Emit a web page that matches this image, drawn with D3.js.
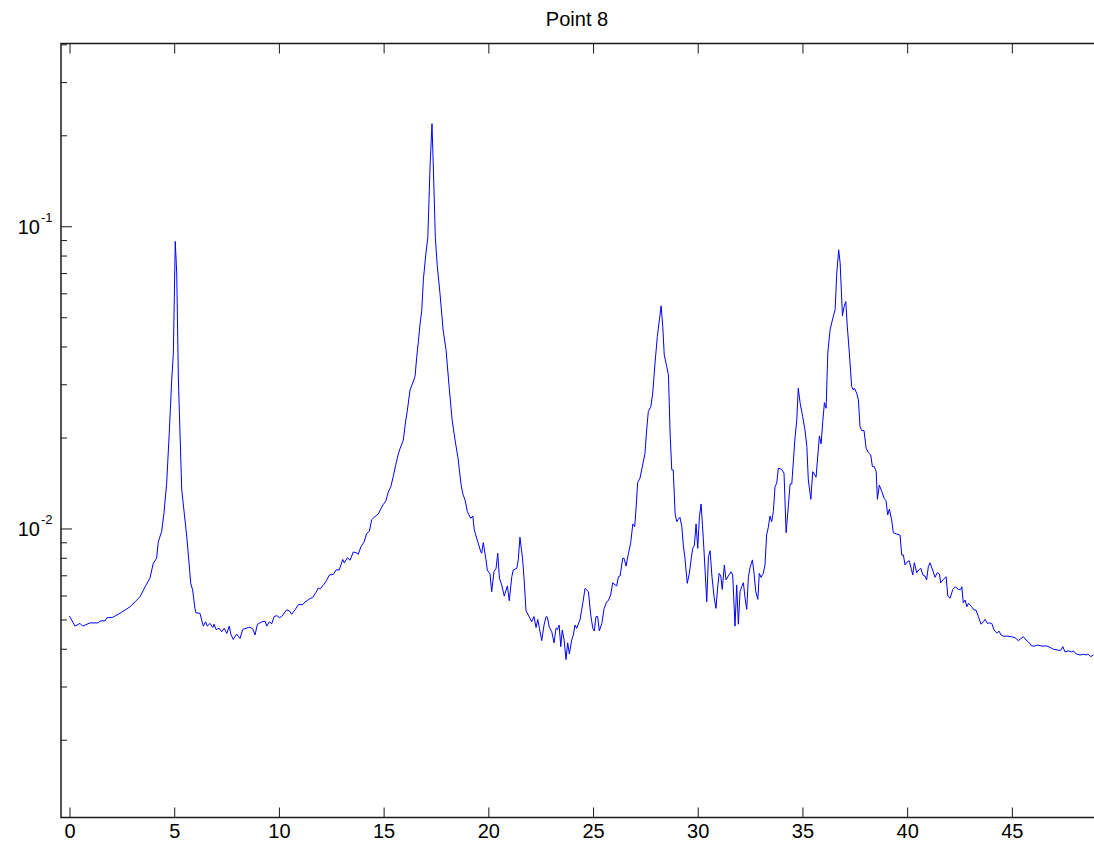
<!DOCTYPE html>
<html>
<head>
<meta charset="utf-8">
<script src="https://cdn.jsdelivr.net/npm/d3@7/dist/d3.min.js"></script>
<style>
  html, body { margin: 0; padding: 0; background: #fff; }
  svg { display: block; font-family: "Liberation Sans", Arial, Helvetica, sans-serif; }
</style>
</head>
<body>
<svg id="chart" width="1094" height="850"></svg>
<script>
// Spectrum at measurement point 8: frequency (Hz) and amplitude
const titleText = "Point 8";

const freqHz = [
  0.00, 0.26, 0.50, 0.63, 0.98, 1.38, 1.46, 1.70, 1.78, 2.06, 2.33, 2.65, 2.89, 3.13, 3.37, 3.61, 3.84,
  4.00, 4.16, 4.24, 4.40, 4.51, 4.64, 4.77, 4.88, 4.96, 5.05, 5.12, 5.20, 5.36, 5.60, 5.79, 5.88, 5.99,
  6.04, 6.23, 6.39, 6.50, 6.58, 6.71, 6.84, 6.90, 7.00, 7.15, 7.27, 7.39, 7.51, 7.63, 7.70, 7.82, 7.98,
  8.14, 8.27, 8.54, 8.62, 8.75, 8.86, 8.97, 9.18, 9.34, 9.42, 9.54, 9.66, 9.77, 9.90, 10.02, 10.13,
  10.37, 10.50, 10.61, 10.77, 10.93, 11.14, 11.25, 11.36, 11.49, 11.61, 11.77, 11.88, 11.96, 12.15,
  12.28, 12.41, 12.60, 12.73, 12.88, 13.05, 13.12, 13.27, 13.40, 13.55, 13.68, 13.79, 13.92, 14.06,
  14.19, 14.32, 14.43, 14.59, 14.75, 14.88, 14.99, 15.11, 15.22, 15.34, 15.46, 15.58, 15.70, 15.78,
  15.94, 16.04, 16.13, 16.26, 16.39, 16.50, 16.58, 16.66, 16.74, 16.82, 16.90, 17.01, 17.11, 17.22,
  17.31, 17.37, 17.47, 17.56, 17.69, 17.84, 17.98, 18.12, 18.27, 18.41, 18.55, 18.70, 18.79, 18.89,
  19.00, 19.16, 19.26, 19.33, 19.47, 19.64, 19.68, 19.76, 19.89, 19.95, 20.08, 20.16, 20.27, 20.37,
  20.45, 20.53, 20.64, 20.76, 20.91, 21.00, 21.12, 21.19, 21.36, 21.43, 21.51, 21.64, 21.70, 21.80,
  21.91, 22.07, 22.18, 22.28, 22.36, 22.44, 22.55, 22.66, 22.76, 22.82, 22.91, 23.03, 23.14, 23.23,
  23.30, 23.38, 23.46, 23.53, 23.62, 23.71, 23.79, 23.87, 23.98, 24.06, 24.14, 24.22, 24.38, 24.51,
  24.62, 24.78, 24.89, 24.99, 25.06, 25.14, 25.22, 25.30, 25.42, 25.53, 25.65, 25.73, 25.84, 25.94,
  26.05, 26.13, 26.21, 26.29, 26.42, 26.48, 26.58, 26.69, 26.80, 26.90, 26.99, 27.05, 27.13, 27.24,
  27.37, 27.48, 27.56, 27.64, 27.76, 27.85, 27.96, 28.07, 28.17, 28.25, 28.33, 28.40, 28.52, 28.60,
  28.68, 28.76, 28.83, 28.92, 29.00, 29.07, 29.15, 29.24, 29.31, 29.39, 29.50, 29.60, 29.68, 29.76,
  29.84, 29.92, 30.00, 30.08, 30.16, 30.27, 30.35, 30.43, 30.51, 30.59, 30.68, 30.78, 30.87, 30.94,
  31.02, 31.10, 31.17, 31.27, 31.35, 31.46, 31.59, 31.67, 31.78, 31.86, 31.94, 32.02, 32.10, 32.18,
  32.26, 32.34, 32.42, 32.50, 32.61, 32.69, 32.77, 32.87, 32.94, 33.02, 33.13, 33.21, 33.29, 33.37,
  33.45, 33.53, 33.61, 33.69, 33.77, 33.85, 34.01, 34.12, 34.22, 34.33, 34.41, 34.49, 34.57, 34.65,
  34.73, 34.80, 34.89, 35.01, 35.12, 35.21, 35.28, 35.40, 35.49, 35.65, 35.81, 35.89, 35.97, 36.05,
  36.13, 36.21, 36.32, 36.45, 36.56, 36.64, 36.73, 36.80, 36.91, 36.99, 37.07, 37.14, 37.24, 37.35,
  37.43, 37.48, 37.59, 37.67, 37.75, 37.83, 37.94, 38.04, 38.15, 38.26, 38.34, 38.43, 38.52, 38.58,
  38.67, 38.79, 38.90, 38.99, 39.07, 39.15, 39.26, 39.34, 39.50, 39.66, 39.74, 39.82, 39.90, 40.01,
  40.10, 40.19, 40.27, 40.34, 40.46, 40.54, 40.65, 40.75, 40.85, 40.93, 41.01, 41.09, 41.22, 41.33,
  41.44, 41.54, 41.60, 41.73, 41.86, 41.94, 42.05, 42.18, 42.29, 42.45, 42.56, 42.61, 42.68, 42.77,
  42.85, 42.93, 43.08, 43.20, 43.29, 43.40, 43.53, 43.64, 43.72, 43.83, 43.92, 44.04, 44.15, 44.28,
  44.39, 44.48, 44.59, 44.76, 44.99, 45.15, 45.31, 45.43, 45.55, 45.68, 45.79, 45.95, 46.11, 46.22,
  46.43, 46.67, 46.82, 46.98, 47.22, 47.34, 47.43, 47.54, 47.70, 47.86, 47.94, 48.07, 48.26, 48.42,
  48.55, 48.64, 48.77, 48.89
];

const amplitude = [
  0.00515, 0.00477, 0.00487, 0.00477, 0.00489, 0.00489, 0.00496, 0.00497, 0.00508, 0.00510, 0.00522, 0.00539, 0.00553, 0.00574, 0.00597, 0.00644, 0.00687,
  0.00770, 0.00800, 0.00908, 0.00980, 0.01127, 0.01416, 0.02127, 0.03112, 0.03818, 0.0894, 0.0703, 0.03112, 0.01346, 0.00943, 0.00661, 0.00628, 0.00546,
  0.00528, 0.00526, 0.00477, 0.00493, 0.00477, 0.00487, 0.00472, 0.00484, 0.00465, 0.00469, 0.00457, 0.00469, 0.00451, 0.00477, 0.00449, 0.00431, 0.00449,
  0.00434, 0.00465, 0.00472, 0.00473, 0.00467, 0.00446, 0.00483, 0.00493, 0.00495, 0.00477, 0.00493, 0.00486, 0.00513, 0.00517, 0.00509, 0.00513,
  0.00540, 0.00536, 0.00522, 0.00540, 0.00562, 0.00562, 0.00574, 0.00580, 0.00589, 0.00593, 0.00617, 0.00638, 0.00633, 0.00656,
  0.00677, 0.00704, 0.00708, 0.00732, 0.00732, 0.00793, 0.00772, 0.00803, 0.00788, 0.00839, 0.00835, 0.00825, 0.00875, 0.00904,
  0.00966, 0.00983, 0.01073, 0.01100, 0.01122, 0.01170, 0.01207, 0.01239, 0.01325, 0.01378, 0.01492, 0.01635, 0.01769, 0.01841,
  0.01968, 0.02242, 0.02460, 0.02882, 0.03039, 0.03200, 0.03701, 0.04170, 0.04759, 0.05288, 0.0671, 0.0806, 0.0920, 0.1601,
  0.2193, 0.1601, 0.0920, 0.0745, 0.0603, 0.0456, 0.0392, 0.0300, 0.0230, 0.0197, 0.0172, 0.0140, 0.0130, 0.01247,
  0.01141, 0.01085, 0.01104, 0.00992, 0.00920, 0.00841, 0.00831, 0.00901, 0.00790, 0.00731, 0.00710, 0.00620, 0.00722, 0.00741,
  0.00831, 0.00687, 0.00653, 0.00600, 0.00648, 0.00579, 0.00695, 0.00731, 0.00741, 0.00790, 0.00939, 0.00790, 0.00695, 0.00536,
  0.00519, 0.00493, 0.00513, 0.00472, 0.00502, 0.00469, 0.00427, 0.00481, 0.00513, 0.00511, 0.00473, 0.00457, 0.00420, 0.00469,
  0.00465, 0.00481, 0.00408, 0.00463, 0.00429, 0.00370, 0.00420, 0.00386, 0.00429, 0.00446, 0.00481, 0.00469, 0.00502, 0.00568,
  0.00636, 0.00620, 0.00519, 0.00469, 0.00460, 0.00513, 0.00513, 0.00460, 0.00487, 0.00546, 0.00574, 0.00579, 0.00605, 0.00664,
  0.00653, 0.00648, 0.00695, 0.00699, 0.00800, 0.00800, 0.00754, 0.00831, 0.00901, 0.01039, 0.01018, 0.01156, 0.01423, 0.01472,
  0.01629, 0.01780, 0.02127, 0.02445, 0.02541, 0.02815, 0.03538, 0.04333, 0.04921, 0.05475, 0.04675, 0.03769, 0.03445, 0.03236,
  0.02074, 0.01568, 0.01568, 0.01121, 0.01057, 0.01076, 0.01093, 0.01018, 0.00885, 0.00800, 0.00661, 0.00713, 0.00790, 0.00863,
  0.00885, 0.01039, 0.00863, 0.01098, 0.01210, 0.00920, 0.00731, 0.00574, 0.00810, 0.00847, 0.00695, 0.00597, 0.00546, 0.00628,
  0.00713, 0.00699, 0.00631, 0.00760, 0.00678, 0.00699, 0.00722, 0.00704, 0.00477, 0.00653, 0.00484, 0.00620, 0.00644, 0.00664,
  0.00590, 0.00542, 0.00695, 0.00747, 0.00790, 0.00713, 0.00620, 0.00585, 0.00713, 0.00692, 0.00713, 0.00760, 0.00955, 0.01013,
  0.01104, 0.01057, 0.01141, 0.01380, 0.01416, 0.01589, 0.01575, 0.01529, 0.00972, 0.01201, 0.01409, 0.01409, 0.01693, 0.02021,
  0.02297, 0.02923, 0.02607, 0.02355, 0.02127, 0.01873, 0.01453, 0.01254, 0.01548, 0.01483, 0.02032, 0.01912, 0.02267, 0.02619,
  0.02509, 0.03818, 0.04560, 0.04984, 0.05311, 0.0703, 0.0839, 0.0758, 0.05074, 0.05446, 0.05657, 0.04700, 0.03818, 0.02959,
  0.02885, 0.02922, 0.02815, 0.02674, 0.02182, 0.02116, 0.02116, 0.01850, 0.01789, 0.01758, 0.01608, 0.01608, 0.01548, 0.01254,
  0.01398, 0.01329, 0.01264, 0.01241, 0.01113, 0.01162, 0.01071, 0.00972, 0.00962, 0.00955, 0.00820, 0.00820, 0.00760, 0.00779,
  0.00785, 0.00741, 0.00704, 0.00773, 0.00717, 0.00731, 0.00741, 0.00704, 0.00699, 0.00678, 0.00750, 0.00773, 0.00731, 0.00692,
  0.00717, 0.00710, 0.00664, 0.00681, 0.00695, 0.00600, 0.00590, 0.00631, 0.00644, 0.00631, 0.00631, 0.00644, 0.00570, 0.00582,
  0.00553, 0.00568, 0.00553, 0.00539, 0.00539, 0.00513, 0.00484, 0.00493, 0.00502, 0.00487, 0.00489, 0.00487, 0.00463, 0.00453,
  0.00459, 0.00446, 0.00442, 0.00442, 0.00440, 0.00437, 0.00427, 0.00434, 0.00440, 0.00429, 0.00423, 0.00410, 0.00410, 0.00413,
  0.00410, 0.00410, 0.00406, 0.00400, 0.00397, 0.00397, 0.00408, 0.00392, 0.00395, 0.00392, 0.00395, 0.00386, 0.00383, 0.00385,
  0.00383, 0.00386, 0.00378, 0.00383
];

const xTickValues = [0, 5, 10, 15, 20, 25, 30, 35, 40, 45];
const yMajorTicks = [0.01, 0.1];
const yMajorExponents = ["-2", "-1"];
const yMinorMultipliers = [2, 3, 4, 5, 6, 7, 8, 9];
const yDecades = [0.001, 0.01, 0.1];

const data = freqHz.map((f, i) => ({ f, a: amplitude[i] }));

const svg = d3.select("#chart");
const plot = { left: 61, top: 43.5, right: 1095, bottom: 817.5 };

const x = d3.scaleLinear().domain([-0.406, 48.97]).range([plot.left, plot.right]);
const y = d3.scaleLog().domain([0.00111, 0.404]).range([plot.bottom, plot.top]);

const axisColor = "#1a1a1a";

// clip region for the trace
svg.append("defs").append("clipPath").attr("id", "plotClip")
  .append("rect")
  .attr("x", plot.left).attr("y", plot.top)
  .attr("width", plot.right - plot.left).attr("height", plot.bottom - plot.top);

// spectrum trace
const line = d3.line().x(d => x(d.f)).y(d => y(d.a));
svg.append("path")
  .datum(data)
  .attr("clip-path", "url(#plotClip)")
  .attr("fill", "none")
  .attr("stroke", "#0000ff")
  .attr("stroke-width", 1)
  .attr("stroke-linejoin", "round")
  .attr("d", line);

// bottom axis: ticks point inward, labels below
const xAxisBottom = d3.axisBottom(x).tickValues(xTickValues).tickSize(-10).tickPadding(6).tickFormat(d3.format("d"));
const gxb = svg.append("g").attr("transform", `translate(0,${plot.bottom})`).call(xAxisBottom);
gxb.select(".domain").remove();
gxb.selectAll(".tick line").attr("stroke", axisColor).attr("stroke-width", 1);
gxb.selectAll(".tick text").attr("font-size", 20).attr("fill", "#000")
  .attr("font-family", "'Liberation Sans', Arial, Helvetica, sans-serif");

// top axis: ticks only
const xAxisTop = d3.axisTop(x).tickValues(xTickValues).tickSize(-10).tickFormat("");
const gxt = svg.append("g").attr("transform", `translate(0,${plot.top})`).call(xAxisTop);
gxt.select(".domain").remove();
gxt.selectAll(".tick line").attr("stroke", axisColor).attr("stroke-width", 1);

// left axis: major and minor log ticks
const minorValues = [];
yDecades.forEach(dec => yMinorMultipliers.forEach(m => {
  const v = dec * m;
  if (v >= y.domain()[0] && v <= y.domain()[1]) minorValues.push(v);
}));
const gy = svg.append("g");
gy.selectAll("line.minor").data(minorValues).join("line")
  .attr("class", "minor")
  .attr("x1", plot.left).attr("x2", plot.left + 6)
  .attr("y1", d => y(d)).attr("y2", d => y(d))
  .attr("stroke", axisColor).attr("stroke-width", 1);
gy.selectAll("line.major").data(yMajorTicks).join("line")
  .attr("class", "major")
  .attr("x1", plot.left).attr("x2", plot.left + 11)
  .attr("y1", d => y(d)).attr("y2", d => y(d))
  .attr("stroke", axisColor).attr("stroke-width", 1);

const labels = gy.selectAll("g.ylab").data(yMajorTicks).join("g").attr("class", "ylab");
labels.append("text")
  .attr("x", 40).attr("y", d => y(d) + 7)
  .attr("text-anchor", "end").attr("font-size", 20).attr("fill", "#000")
  .text("10");
labels.append("text")
  .attr("x", 41).attr("y", d => y(d) - 5)
  .attr("text-anchor", "start").attr("font-size", 13).attr("fill", "#000")
  .text((d, i) => yMajorExponents[i]);

// frame lines (left, top, bottom)
svg.append("path")
  .attr("d", `M${plot.right},${plot.top}H${plot.left}V${plot.bottom}H${plot.right}`)
  .attr("fill", "none").attr("stroke", axisColor).attr("stroke-width", 1.5);

// title
svg.append("text")
  .attr("x", (plot.left + 1093) / 2).attr("y", 26)
  .attr("text-anchor", "middle").attr("font-size", 20).attr("fill", "#000")
  .text(titleText);
</script>
</body>
</html>
